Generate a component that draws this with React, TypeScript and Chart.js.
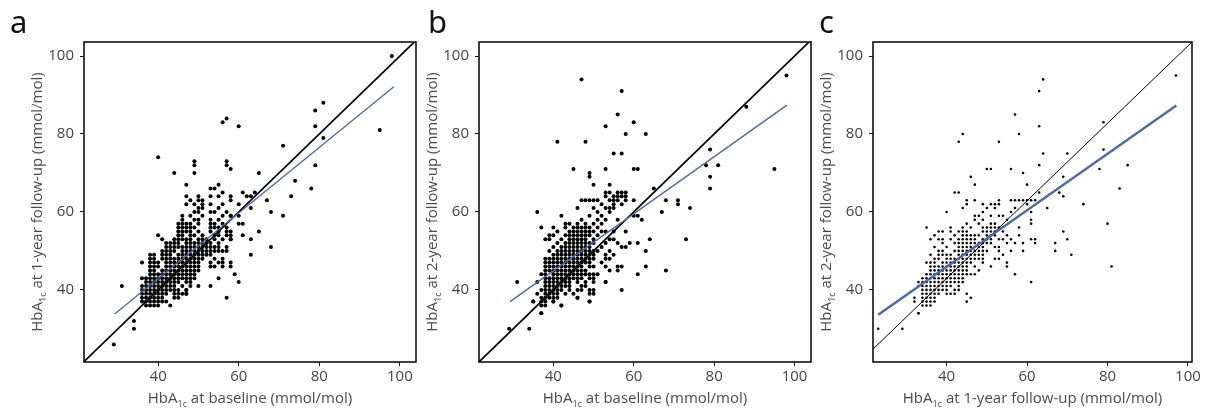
import React, { useEffect, useRef } from "react";
import { Chart, registerables } from "chart.js";

Chart.register(...registerables);

// ---------- data ----------
const tickValues = [40, 60, 80, 100];

// panel a: HbA1c baseline (x) vs 1-year follow-up (y); rows are [y, xs]
const aClusterRows: [number, number[]][] = [
  [36, [37, 38, 39, 40, 43]],
  [37, [36, 37, 38, 39, 40, 41, 42]],
  [38, [36, 37, 38, 39, 40, 41, 44, 45]],
  [39, [36, 37, 38, 39, 40, 41, 42, 44, 45, 46, 47]],
  [40, [36, 37, 38, 39, 40, 41, 42, 43, 44, 45, 47]],
  [41, [36, 37, 38, 39, 40, 41, 42, 43, 44, 46, 48, 50, 53]],
  [42, [37, 38, 39, 40, 41, 42, 43, 44, 45, 47, 48]],
  [43, [36, 37, 38, 39, 40, 41, 42, 43, 44, 45, 46, 47, 48, 49]],
  [44, [38, 39, 40, 41, 42, 43, 44, 45, 46, 47, 48, 49]],
  [45, [38, 39, 41, 42, 43, 44, 45, 46, 47, 48, 49, 50]],
  [46, [38, 39, 40, 42, 43, 44, 45, 46, 47, 48, 49, 50, 53, 54, 56]],
  [47, [38, 39, 40, 42, 43, 44, 45, 46, 47, 48, 49, 50, 53, 55, 56]],
  [48, [38, 39, 41, 42, 43, 44, 45, 46, 47, 48, 49, 50, 51, 54, 56]],
  [49, [38, 39, 41, 42, 43, 45, 46, 47, 48, 49, 50, 51, 52, 53]],
  [50, [41, 42, 43, 44, 46, 47, 48, 49, 50, 51, 52, 53, 54, 55, 56, 57]],
  [51, [42, 43, 44, 45, 46, 47, 48, 49, 50, 51, 52, 53, 54, 55, 57]],
  [52, [42, 43, 44, 45, 47, 48, 49, 50, 51, 52, 53, 55]],
  [53, [41, 44, 45, 46, 47, 48, 50, 51, 52, 54, 56, 58]],
  [54, [45, 46, 48, 49, 51, 54, 55, 57]],
  [55, [45, 46, 47, 48, 50, 53, 55, 57, 58]],
  [56, [45, 46, 47, 48, 49, 53, 54, 55, 57]],
  [57, [45, 46, 47, 48, 50, 53, 54, 56]],
  [58, [46, 49, 50, 53, 55]],
  [59, [46, 48, 51, 56, 58]],
  [60, [49, 50, 53, 54, 57]],
  [61, [50, 51, 55]],
  [62, [47, 49, 51, 53, 56]],
  [63, [48, 50, 51, 58]],
  [64, [47, 50, 53, 55, 58]],
];
const aOutliers: [number, number][] = [
  [98, 100], [95, 81], [81, 88], [79, 86], [79, 82], [81, 79], [79, 72], [78, 66],
  [74, 68], [73, 64], [71, 77], [71, 59], [68, 51], [68, 60], [67, 63], [65, 70],
  [65, 55], [63, 61], [63, 53], [63, 49], [60, 62], [60, 59], [60, 57], [61, 57],
  [61, 54], [60, 42], [59, 44], [57, 38], [56, 83], [57, 84], [60, 82], [57, 73],
  [57, 72], [58, 71], [40, 74], [44, 70], [49, 73], [49, 72], [49, 70], [47, 67],
  [31, 41], [34, 32], [34, 30], [29, 26], [40, 54], [36, 47], [55, 43], [58, 46],
  [58, 47], [61, 65], [62, 64], [63, 64], [64, 65], [53, 66], [54, 66], [55, 67],
  [56, 65], [47, 40], [47, 39], [58, 59], [58, 54], [58, 53],
];
const aIdentity: [number, number][] = [[20, 20], [106, 106]];
const aFit: [number, number][] = [[29.2, 33.8], [98.5, 92.1]];

// panel b: baseline (x) vs 2-year follow-up (y)
const bClusterRows: [number, number[]][] = [
  [34, [37]],
  [36, [37, 38, 42]],
  [37, [35, 37, 38, 40, 49]],
  [38, [37, 38, 39, 40, 41, 46]],
  [39, [36, 38, 39, 40, 41, 43, 45, 49, 50]],
  [40, [37, 38, 39, 40, 41, 42, 44, 46, 47, 49, 50]],
  [41, [38, 39, 40, 41, 42, 43, 44, 47, 48]],
  [42, [36, 38, 39, 40, 41, 42, 43, 44, 46, 48, 50, 53]],
  [43, [38, 39, 40, 41, 42, 43, 44, 45, 46, 47, 49, 50]],
  [44, [37, 38, 40, 41, 42, 43, 44, 45, 46, 47, 48, 49, 50, 51]],
  [45, [38, 39, 40, 41, 42, 43, 44, 45, 46, 47, 48, 54]],
  [46, [38, 39, 40, 41, 42, 43, 44, 45, 46, 47, 49, 50, 53]],
  [47, [38, 39, 40, 41, 42, 43, 44, 45, 46, 47, 48, 49, 52]],
  [48, [38, 39, 40, 41, 42, 43, 44, 45, 46, 47, 48, 49, 50, 53, 54]],
  [49, [40, 41, 42, 43, 44, 45, 46, 47, 48, 49, 50, 53, 55]],
  [50, [39, 41, 42, 43, 44, 45, 46, 47, 48, 49, 50, 51, 54]],
  [51, [40, 42, 43, 44, 45, 46, 47, 48, 49, 52]],
  [52, [41, 43, 44, 45, 46, 47, 48, 49, 50, 53, 56]],
  [53, [38, 39, 42, 44, 45, 46, 47, 48, 50, 54, 55]],
  [54, [39, 40, 43, 44, 45, 46, 47, 48, 49, 51]],
  [55, [41, 44, 45, 46, 47, 48, 49, 50, 52, 53, 55]],
  [56, [37, 40, 43, 45, 46, 47, 48, 49, 51]],
  [57, [43, 44, 46, 48, 50, 52]],
  [58, [47, 51, 53, 56]],
  [59, [42, 49, 52]],
  [60, [51, 54]],
  [61, [46, 50, 53, 54, 55]],
  [62, [52, 55, 57]],
  [63, [47, 48, 49, 50, 51, 54, 55, 56, 58]],
  [64, [53, 55, 56, 57, 58]],
  [65, [53, 54, 56, 57, 58]],
];
const bOutliers: [number, number][] = [
  [98, 95], [88, 87], [95, 71], [79, 76], [78, 72], [81, 72], [79, 69], [79, 66],
  [74, 61], [71, 63], [71, 62], [73, 53], [68, 63], [67, 60], [68, 45], [65, 66],
  [47, 94], [57, 91], [56, 85], [53, 82], [60, 83], [58, 80], [63, 80], [41, 78],
  [48, 78], [55, 75], [57, 75], [45, 71], [53, 71], [60, 71], [61, 71], [49, 70],
  [49, 69], [50, 67], [54, 67], [36, 60], [31, 42], [29, 30], [34, 30], [37, 34],
  [57, 40], [61, 44], [63, 46], [63, 50], [64, 53], [62, 58], [61, 59], [60, 59],
  [60, 63], [59, 52], [61, 52], [58, 51], [57, 51], [58, 55], [56, 46], [56, 45],
  [57, 46], [53, 42], [49, 37], [46, 38], [42, 36], [40, 37], [35, 37],
];
const bIdentity: [number, number][] = [[20, 20], [106, 106]];
const bFit: [number, number][] = [[29.2, 37.0], [98.1, 87.4]];

// panel c: 1-year follow-up (x) vs 2-year follow-up (y)
const cClusterRows: [number, number[]][] = [
  [34, [33]],
  [36, [34, 35, 36]],
  [37, [32, 34, 35, 36, 37]],
  [38, [32, 34, 35, 36, 37]],
  [39, [34, 35, 36, 37, 38, 40, 41, 42]],
  [40, [34, 35, 36, 37, 38, 39, 40, 42, 43]],
  [41, [33, 34, 35, 36, 37, 38, 39, 40, 41, 43]],
  [42, [33, 34, 35, 36, 37, 38, 39, 40, 41, 42, 43, 44]],
  [43, [34, 35, 36, 37, 38, 39, 40, 41, 42, 43, 44]],
  [44, [35, 36, 37, 38, 39, 40, 41, 42, 43, 44, 45, 46, 47]],
  [45, [36, 37, 38, 39, 40, 41, 42, 43, 44, 45, 48]],
  [46, [36, 37, 38, 39, 40, 41, 42, 43, 44, 45, 47, 51]],
  [47, [35, 36, 37, 39, 40, 41, 42, 43, 44, 45, 46, 49]],
  [48, [37, 38, 40, 41, 42, 43, 44, 45, 46, 47, 48, 49, 52, 53]],
  [49, [36, 38, 39, 40, 41, 43, 44, 45, 46, 47, 48, 49, 54]],
  [50, [38, 39, 42, 43, 44, 45, 46, 47, 48, 49, 50, 53]],
  [51, [37, 40, 43, 44, 45, 46, 47, 48, 49, 52, 53]],
  [52, [39, 42, 43, 44, 45, 46, 47, 48, 49, 50, 51, 55]],
  [53, [36, 38, 39, 41, 43, 44, 45, 46, 47, 49, 50, 51, 53, 54, 56]],
  [54, [37, 42, 44, 45, 46, 47, 48, 50, 51, 52, 55]],
  [55, [38, 39, 41, 43, 44, 45, 49, 50, 51, 52, 54]],
  [56, [41, 44, 46, 49, 50, 51, 52, 53]],
  [57, [45, 48, 51, 52]],
  [58, [47, 49, 55]],
  [59, [47, 48, 51, 53, 54]],
  [60, [49, 56, 61]],
  [61, [44, 50, 52, 57]],
  [62, [45, 49, 51, 52, 53, 60]],
  [63, [45, 47, 53, 56, 57, 58, 59, 60, 61, 62]],
];
const cOutliers: [number, number][] = [
  [97, 95], [64, 94], [63, 91], [63, 82], [64, 75], [63, 72], [63, 65], [57, 85],
  [58, 80], [59, 70], [60, 67], [53, 78], [44, 80], [43, 78], [50, 71], [51, 71],
  [56, 71], [46, 69], [47, 67], [42, 65], [43, 65], [40, 60], [35, 56], [23, 30],
  [29, 30], [33, 34], [78, 71], [79, 76], [79, 83], [83, 66], [85, 72], [74, 62],
  [80, 57], [81, 46], [70, 75], [69, 69], [69, 64], [68, 65], [69, 55], [70, 53],
  [67, 52], [67, 50], [71, 49], [65, 61], [62, 53], [62, 52], [61, 53], [61, 58],
  [61, 57], [61, 42], [57, 44], [55, 47], [55, 46], [56, 50], [57, 52], [59, 52],
  [59, 50], [58, 56], [58, 54], [45, 39], [45, 37], [46, 38],
];
const cDiagonal: [number, number][] = [[21.7, 24.8], [101.0, 103.6]];
const cFit: [number, number][] = [[23.0, 33.6], [97.1, 87.3]];

// ---------- rendering ----------
const FONT = "'Open Sans', 'DejaVu Sans', sans-serif";
const BLUE = "#4d6aa6";

type PanelSpec = {
  letter: string;
  letterX: number;
  canvasLeft: number;
  canvasWidth: number;
  plot: { l: number; r: number; t: number; b: number };
  xRange: [number, number];
  yRange: [number, number];
  rows: [number, number[]][];
  outliers: [number, number][];
  diag: [number, number][];
  fit: [number, number][];
  xTitle: string;
  yTitle: string;
  radius: number;
  diagWidth: number;
  fitWidth: number;
};

const panels: PanelSpec[] = [
  {
    letter: "a", letterX: 10, canvasLeft: 0, canvasWidth: 430,
    plot: { l: 84, r: 416, t: 42, b: 362 },
    xRange: [21.6, 104.0], yRange: [21.5, 103.6],
    rows: aClusterRows, outliers: aOutliers, diag: aIdentity, fit: aFit,
    xTitle: " at baseline (mmol/mol)", yTitle: " at 1-year follow-up (mmol/mol)",
    radius: 2.0, diagWidth: 1.7, fitWidth: 1.4,
  },
  {
    letter: "b", letterX: 428, canvasLeft: 410, canvasWidth: 410,
    plot: { l: 479, r: 811, t: 42, b: 362 },
    xRange: [21.5, 104.1], yRange: [21.5, 103.6],
    rows: bClusterRows, outliers: bOutliers, diag: bIdentity, fit: bFit,
    xTitle: " at baseline (mmol/mol)", yTitle: " at 2-year follow-up (mmol/mol)",
    radius: 2.0, diagWidth: 1.7, fitWidth: 1.4,
  },
  {
    letter: "c", letterX: 819, canvasLeft: 810, canvasWidth: 400,
    plot: { l: 873, r: 1192, t: 42, b: 362 },
    xRange: [21.7, 101.0], yRange: [21.5, 103.6],
    rows: cClusterRows, outliers: cOutliers, diag: cDiagonal, fit: cFit,
    xTitle: " at 1-year follow-up (mmol/mol)", yTitle: " at 2-year follow-up (mmol/mol)",
    radius: 1.3, diagWidth: 1.0, fitWidth: 2.4,
  },
];

function drawHbATitle(ctx: CanvasRenderingContext2D, cx: number, baseY: number, rest: string) {
  const main = `15px ${FONT}`;
  const sub = `9px ${FONT}`;
  ctx.font = main;
  const w1 = ctx.measureText("HbA").width;
  const w3 = ctx.measureText(rest).width;
  ctx.font = sub;
  const w2 = ctx.measureText("1c").width;
  let x = cx - (w1 + w2 + w3) / 2;
  ctx.textAlign = "left";
  ctx.textBaseline = "alphabetic";
  ctx.fillStyle = "#4a4a4a";
  ctx.font = main;
  ctx.fillText("HbA", x, baseY);
  x += w1;
  ctx.font = sub;
  ctx.fillText("1c", x, baseY + 4);
  x += w2;
  ctx.font = main;
  ctx.fillText(rest, x, baseY);
}

function Panel({ spec }: { spec: PanelSpec }) {
  const ref = useRef<HTMLCanvasElement | null>(null);
  useEffect(() => {
    const canvas = ref.current;
    if (!canvas) return;
    const { plot, canvasLeft, canvasWidth } = spec;
    const points = [
      ...spec.rows.flatMap(([y, xs]) => xs.map((x) => ({ x, y }))),
      ...spec.outliers.map(([x, y]) => ({ x, y })),
    ];
    const decor = {
      id: "decor",
      afterDatasetsDraw(chart: any) {
        const { ctx, chartArea } = chart;
        ctx.save();
        ctx.strokeStyle = "#111";
        ctx.lineWidth = 1.6;
        ctx.strokeRect(chartArea.left, chartArea.top, chartArea.right - chartArea.left, chartArea.bottom - chartArea.top);
        ctx.restore();
      },
      afterDraw(chart: any) {
        const { ctx, chartArea } = chart;
        ctx.save();
        ctx.font = `31px 'Noto Sans', ${FONT}`;
        ctx.fillStyle = "#111";
        ctx.textAlign = "left";
        ctx.textBaseline = "alphabetic";
        ctx.fillText(spec.letter, spec.letterX - canvasLeft, 33);
        const cx = (chartArea.left + chartArea.right) / 2;
        drawHbATitle(ctx, cx, 403, spec.xTitle);
        const cy = (chartArea.top + chartArea.bottom) / 2;
        ctx.translate(chartArea.left - 42, cy);
        ctx.rotate(-Math.PI / 2);
        drawHbATitle(ctx, 0, 0, spec.yTitle);
        ctx.restore();
      },
    };
    const tickCfg = {
      color: "#444",
      font: { family: FONT, size: 15 },
      padding: 2,
      maxRotation: 0,
      autoSkip: false,
    };
    const chart = new Chart(canvas, {
      type: "scatter",
      data: {
        datasets: [
          {
            data: spec.fit.map(([x, y]) => ({ x, y })),
            showLine: true,
            borderColor: BLUE,
            borderWidth: spec.fitWidth,
            pointRadius: 0,
            order: 0,
            clip: 0,
          } as any,
          {
            data: spec.diag.map(([x, y]) => ({ x, y })),
            showLine: true,
            borderColor: "#000",
            borderWidth: spec.diagWidth,
            pointRadius: 0,
            order: 1,
            clip: 0,
          } as any,
          {
            data: points,
            pointRadius: spec.radius,
            pointBackgroundColor: "#000",
            pointBorderWidth: 0,
            showLine: false,
            order: 2,
          } as any,
        ],
      },
      options: {
        responsive: false,
        animation: false,
        devicePixelRatio: 1,
        layout: {
          padding: {
            left: 0,
            top: plot.t,
            right: canvasLeft + canvasWidth - plot.r,
            bottom: 0,
          },
        },
        plugins: { legend: { display: false }, tooltip: { enabled: false } },
        scales: {
          x: {
            type: "linear",
            min: spec.xRange[0],
            max: spec.xRange[1],
            afterBuildTicks: (s: any) => {
              s.ticks = tickValues.map((v) => ({ value: v }));
            },
            afterFit: (s: any) => {
              s.height = 414 - plot.b;
            },
            ticks: tickCfg,
            grid: { drawOnChartArea: false, drawTicks: true, tickLength: 4, color: "#111", lineWidth: 1 },
            border: { display: false },
          },
          y: {
            type: "linear",
            min: spec.yRange[0],
            max: spec.yRange[1],
            afterBuildTicks: (s: any) => {
              s.ticks = tickValues.map((v) => ({ value: v }));
            },
            afterFit: (s: any) => {
              s.width = plot.l - canvasLeft;
            },
            ticks: { ...tickCfg, padding: 6 },
            grid: { drawOnChartArea: false, drawTicks: true, tickLength: 4, color: "#111", lineWidth: 1 },
            border: { display: false },
          },
        },
      } as any,
      plugins: [decor],
    });
    return () => chart.destroy();
  }, [spec]);
  return (
    <canvas
      ref={ref}
      width={spec.canvasWidth}
      height={414}
      style={{ position: "absolute", left: spec.canvasLeft, top: 0, width: spec.canvasWidth, height: 414 }}
    />
  );
}

export default function App() {
  return (
    <div style={{ position: "absolute", left: 0, top: 0, width: 1210, height: 414, background: "#fff", overflow: "hidden" }}>
      {panels.map((p) => (
        <Panel key={p.letter} spec={p} />
      ))}
    </div>
  );
}
